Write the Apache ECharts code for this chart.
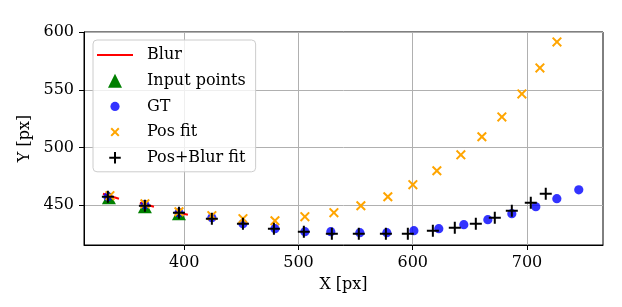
<!DOCTYPE html>
<html>
<head>
<meta charset="utf-8">
<script src="https://cdn.jsdelivr.net/npm/echarts@6/dist/echarts.min.js"></script>
<style>
html,body{margin:0;padding:0;background:#fff;}
#chart{width:622px;height:307px;}
</style>
</head>
<body>
<div id="chart"></div>
<script>
// ---- data ----
const xTicks = [400, 500, 600, 700];
const yTicks = [450, 500, 550, 600];

const blurX0 = [328.9, 361.2, 391.9];
const blurY0 = [460.0, 452.2, 444.4];
const blurX1 = [342.9, 373.5, 403.2];
const blurY1 = [455.7, 448.7, 441.8];

const inputX = [334.1, 365.6, 395.4];
const inputY = [456.5, 448.7, 442.7];

const gtX = [333.2, 365.6, 395.4, 424.2, 451.4, 479.4, 505.6, 528.3, 553.7, 577.3, 601.0, 622.8, 644.7, 665.7, 686.7, 707.7, 726.1, 745.3];
const gtY = [457.4, 450.5, 443.6, 439.2, 434.1, 429.7, 427.1, 427.1, 426.3, 426.3, 428.0, 429.7, 433.2, 437.5, 442.7, 448.7, 455.7, 463.4];

const posFitX = [335.0, 365.6, 395.4, 424.2, 451.4, 479.4, 505.6, 531.0, 554.6, 578.2, 600.1, 621.1, 642.1, 660.5, 678.0, 695.5, 711.3, 726.2];
const posFitY = [458.3, 451.3, 444.4, 441.0, 438.4, 436.6, 440.1, 443.6, 449.6, 457.4, 467.8, 479.9, 493.7, 509.3, 526.5, 546.4, 568.9, 591.4];

const pbFitX = [333.2, 365.6, 395.4, 424.2, 451.4, 478.5, 504.7, 529.2, 552.8, 576.5, 595.7, 617.6, 636.8, 655.2, 671.8, 686.7, 703.3, 716.4];
const pbFitY = [457.4, 449.6, 443.6, 438.4, 434.1, 429.7, 427.1, 425.4, 425.4, 425.4, 425.4, 428.0, 430.6, 434.1, 439.2, 445.3, 452.2, 460.0];

// ---- helpers (styles only) ----
const zip = (xs, ys) => xs.map((x, i) => [x, ys[i]]);
const f = v => +v.toFixed(2);
function plusPath(s, t, o) {
  const a = o + (s - t) / 2, b = o + (s + t) / 2, e = o + s;
  return `M${f(a)},${f(o)}H${f(b)}V${f(a)}H${f(e)}V${f(b)}H${f(b)}V${f(e)}H${f(a)}V${f(b)}H${f(o)}V${f(a)}H${f(a)}Z`;
}
function xPath(s, t, o) {
  const d = t / Math.SQRT2, c = s / 2;
  const P = [[0, d], [d, 0], [c, c - d], [s - d, 0], [s, d], [c + d, c], [s, s - d], [s - d, s], [c, c + d], [d, s], [0, s - d], [c - d, c]];
  return 'M' + P.map(p => f(p[0] + o) + ',' + f(p[1] + o)).join('L') + 'Z';
}
const B = 16;
const padBox = `M0,0M${B},${B}`;
const legLine = 'path://M0,0M36,16M0,7H36V9H0Z';
const legTri = 'path://' + padBox + 'M8,1L15,15L1,15Z';
const legCircle = 'path://' + padBox + 'M12.6,8A4.6,4.6,0,1,1,3.4,8A4.6,4.6,0,1,1,12.6,8Z';
const legX = 'path://' + padBox + xPath(9, 2, 3.5);
const legPlus = 'path://' + padBox + plusPath(11.5, 2, 2.25);

const FONT = 'DejaVu Serif';
const chart = echarts.init(document.getElementById('chart'), null, {renderer: 'canvas'});

const blurSeries = blurX0.map((x, i) => ({
  name: 'Blur', type: 'line', symbol: 'none', z: 3,
  data: [[blurX0[i], blurY0[i]], [blurX1[i], blurY1[i]]],
  lineStyle: {color: '#ff0000', width: 2},
  itemStyle: {color: '#ff0000'},
  animation: false, silent: true
}));

chart.setOption({
  animation: false,
  grid: {left: 84, right: 19, top: 32, bottom: 62, show: true, borderColor: '#000', borderWidth: 1, backgroundColor: 'transparent'},
  xAxis: {
    type: 'value', min: 312.3, max: 766.5, minInterval: 100, maxInterval: 100,
    name: 'X [px]', nameLocation: 'middle', nameGap: 32,
    nameTextStyle: {fontFamily: FONT, fontSize: 16, color: '#000'},
    axisLine: {show: true, onZero: false, lineStyle: {color: '#000', width: 1}},
    axisTick: {show: true, inside: false, length: 5, lineStyle: {color: '#000'}, customValues: xTicks},
    axisLabel: {fontFamily: FONT, fontSize: 16, color: '#000', margin: 10, customValues: xTicks},
    splitLine: {show: true, lineStyle: {color: '#b0b0b0', width: 1}}
  },
  yAxis: {
    type: 'value', min: 415.6, max: 600, minInterval: 50, maxInterval: 50,
    name: 'Y [px]', nameLocation: 'middle', nameGap: 47,
    nameTextStyle: {fontFamily: FONT, fontSize: 16, color: '#000'},
    axisLine: {show: true, onZero: false, lineStyle: {color: '#000', width: 1}},
    axisTick: {show: true, inside: false, length: 5, lineStyle: {color: '#000'}, customValues: yTicks},
    axisLabel: {fontFamily: FONT, fontSize: 16, color: '#000', margin: 10, customValues: yTicks},
    splitLine: {show: true, lineStyle: {color: '#b0b0b0', width: 1}}
  },
  legend: {
    orient: 'vertical', left: 93, top: 40,
    itemWidth: 36, itemHeight: 16, itemGap: 9.7,
    padding: [7, 10, 6, 4],
    backgroundColor: 'rgba(255,255,255,0.8)', borderColor: '#cccccc', borderWidth: 1, borderRadius: 4,
    textStyle: {fontFamily: FONT, fontSize: 16, color: '#000', padding: [0, 0, 0, 9]},
    selectedMode: false,
    data: [
      {name: 'Blur', icon: legLine, itemStyle: {color: '#ff0000'}},
      {name: 'Input points', icon: legTri},
      {name: 'GT', icon: legCircle},
      {name: 'Pos fit', icon: legX},
      {name: 'Pos+Blur fit', icon: legPlus}
    ]
  },
  series: [
    ...blurSeries,
    {name: 'Input points', type: 'scatter', z: 2, symbol: 'triangle', symbolSize: [14, 13],
      itemStyle: {color: '#008000', opacity: 1}, data: zip(inputX, inputY)},
    {name: 'GT', type: 'scatter', z: 4, symbol: 'circle', symbolSize: 9.2,
      itemStyle: {color: 'rgba(0,0,255,0.8)', opacity: 1}, data: zip(gtX, gtY)},
    {name: 'Pos fit', type: 'scatter', z: 5, symbol: 'path://' + xPath(10, 2, 0), symbolSize: 10,
      itemStyle: {color: '#ffa500', opacity: 1}, data: zip(posFitX, posFitY)},
    {name: 'Pos+Blur fit', type: 'scatter', z: 6, symbol: 'path://' + plusPath(12, 2, 0), symbolSize: 12,
      itemStyle: {color: '#000000', opacity: 1}, data: zip(pbFitX, pbFitY)}
  ]
});
</script>
</body>
</html>
